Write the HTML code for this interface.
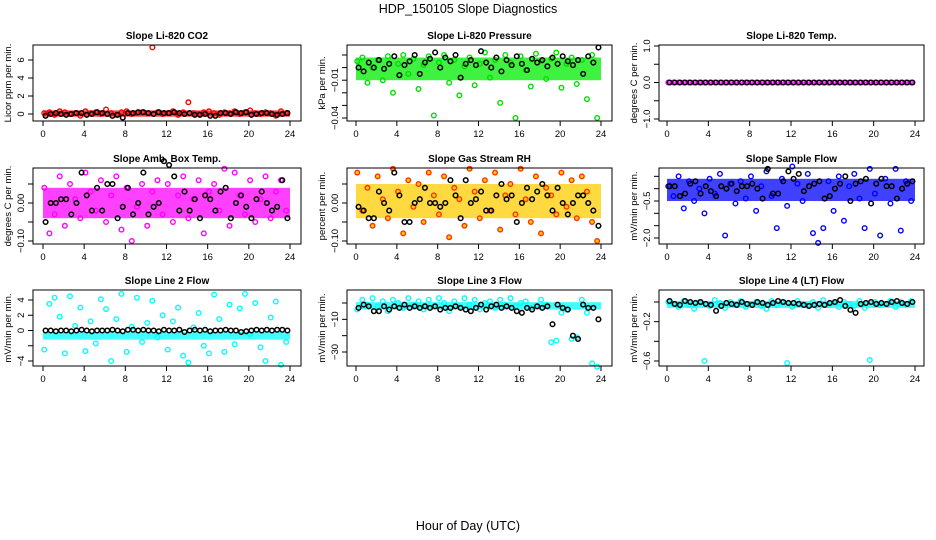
<!DOCTYPE html>
<html><head><meta charset="utf-8">
<style>
html,body{margin:0;padding:0;background:#fff;}
svg{display:block;font-family:"Liberation Sans",sans-serif;}
</style></head>
<body>
<svg id="chart" width="936" height="540" viewBox="0 0 936 540" xmlns="http://www.w3.org/2000/svg">
<text x="468" y="13" font-size="12.5" text-anchor="middle">HDP_150105  Slope Diagnostics</text>
<text x="468" y="530" font-size="12.5" text-anchor="middle">Hour of Day (UTC)</text>
</svg>
<script>
// ---- data ----
const hourTicks = [0,4,8,12,16,20,24];
const panelTitles = ["Slope Li-820 CO2","Slope Li-820 Pressure","Slope Li-820 Temp.","Slope Amb. Box Temp.","Slope Gas Stream RH","Slope Sample Flow","Slope Line 2 Flow","Slope Line 3 Flow","Slope Line 4 (LT) Flow"];
const yTitles = ["Licor ppm per min.","kPa per min.","degrees C per min.","degrees C per min.","percent per min.","mV/min per min.","mV/min per min.","mV/min per min.","mV/min per min."];
const yTickValues = [[0,2,4,6],[0.01,0,-0.01,-0.02,-0.03,-0.04],[1,0.5,0,-0.5,-1],[0.05,0,-0.05,-0.1],[0.05,0,-0.05,-0.1],[0.5,0,-0.5,-1,-1.5,-2],[4,2,0,-2,-4],[0,-10,-20,-30],[0,-0.2,-0.4,-0.6]];
const yTickLabels = [["0","2","4","6"],["","","\u22120.01","","","\u22120.04"],["1.0","","0.0","","\u22121.0"],["","0.00","","\u22120.10"],["","0.00","","\u22120.10"],["","","\u22120.5","","","\u22122.0"],["4","2","0","","\u22124"],["","\u221210","","\u221230"],["","\u22120.2","","\u22120.6"]];
const coreLow = [-0.3,-0.01,-0.02,-0.04,-0.04,-0.5,-1.2,-4,-0.06];
const coreHigh = [0.4,0.008,0.02,0.04,0.05,0.4,-0.2,0.5,0.01];
const colored1 = [0.1,0.2,-0.1,0.3,0.2,0,0.1,-0.2,0.3,0.1,0.2,0,0.5,0.1,-0.1,0.2,0.3,0,0.1,0.2,0.1,7.4,0.2,0,0.1,0.3,-0.1,0.2,1.3,0.1,0,0.2,0.3,0.1,-0.1,0.2,0.1,0.3,0,0.2,0.4,0.1,0,0.2,0.1,-0.2,0.3,0.1];
const black1 = [-0.2,0,0.1,0,-0.1,0,0.1,0.1,-0.1,0,0.2,0.1,0,-0.2,-0.1,-0.4,0.1,0.1,0.2,0.2,0.1,0,0.2,0.1,0.1,0.2,0.1,0,0.1,-0.1,-0.1,0,-0.2,-0.2,0.1,0.1,0,0.2,0.1,0.2,-0.1,0,0.1,0.1,0,-0.1,0,0.1];
const colored2 = [0.005,0.008,-0.012,0.0,0.006,-0.01,0.009,-0.02,0.003,0.01,-0.005,0.007,-0.017,0.002,0.009,-0.038,0.004,0.01,-0.012,0.006,-0.022,0.001,0.008,-0.014,0.003,0.012,-0.008,0.006,-0.028,0.01,0.004,-0.04,0.009,-0.002,-0.015,0.011,0.005,-0.009,0.007,0.012,-0.016,0.003,0.008,-0.013,0.006,-0.025,0.01,-0.04];
const black2 = [0.0,-0.003,0.004,0.0,0.006,-0.001,0.003,0.009,-0.006,0.002,0.005,0.01,-0.005,0.004,0.007,0.012,0.0,0.008,0.005,0.01,-0.008,0.003,0.006,0.002,0.013,0.004,0.0,0.008,-0.003,0.006,0.002,0.009,0.003,-0.002,0.007,0.004,0.006,0.001,0.008,0.003,0.009,0.005,0.002,0.006,-0.005,0.009,0.004,0.016];
const colored3 = [0,0,0,0,0,0,0,0,0,0,0,0,0,0,0,0,0,0,0,0,0,0,0,0,0,0,0,0,0,0,0,0,0,0,0,0,0,0,0,0,0,0,0,0,0,0,0,0];
const black3 = [0,0,0,0,0,0,0,0,0,0,0,0,0,0,0,0,0,0,0,0,0,0,0,0,0,0,0,0,0,0,0,0,0,0,0,0,0,0,0,0,0,0,0,0,0,0,0,0];
const colored4 = [0.04,-0.08,-0.03,0.07,-0.06,0.05,0.01,-0.04,0.08,0.03,-0.02,0.06,-0.05,0.02,0.07,-0.07,0.04,-0.1,-0.01,0.05,-0.06,0.03,0.06,-0.03,0.05,-0.05,0.02,0.07,-0.04,0.01,0.06,-0.08,0.03,0.05,-0.02,0.09,-0.06,0.08,0.02,-0.03,0.06,-0.05,0.01,0.07,-0.04,0.03,0.06,-0.02];
const black4 = [-0.05,0.0,0.0,0.01,0.01,-0.03,0.0,0.08,0.02,-0.02,0.04,-0.02,0.05,0.05,-0.04,-0.01,0.04,-0.03,0.0,0.08,-0.03,-0.01,0.0,0.11,0.1,0.07,-0.02,0.03,-0.02,0.01,-0.04,0.02,0.01,-0.02,0.03,0.04,-0.04,0.0,0.02,-0.01,-0.04,0.01,0.03,0.0,-0.02,-0.01,0.06,-0.04];
const colored5 = [0.08,-0.02,0.04,-0.06,0.07,0.01,-0.04,0.09,0.03,-0.08,0.06,-0.01,0.05,-0.05,0.08,0.02,-0.03,0.07,-0.09,0.04,0.01,-0.06,0.09,0.03,-0.04,0.06,-0.02,0.08,-0.07,0.02,0.05,-0.03,0.09,0.01,-0.05,0.07,-0.08,0.04,0.02,-0.03,0.08,-0.01,0.06,-0.04,0.07,0.03,-0.05,-0.1];
const black5 = [-0.01,-0.02,-0.04,-0.04,0.03,0.0,-0.02,0.08,0.02,-0.05,-0.05,0.0,0.01,0.04,0.0,0.0,-0.01,0.0,0.06,0.02,-0.04,0.06,0.0,0.01,0.03,-0.02,-0.02,0.02,0.05,0.01,0.02,-0.05,0.0,0.04,0.01,0.03,0.05,0.02,-0.02,0.04,0.0,-0.03,0.0,0.02,0.02,0.0,-0.02,-0.06];
const colored6 = [0.1,-0.3,0.5,-0.8,0.3,-0.5,0.0,-1.0,0.4,-0.2,0.6,-1.9,0.2,-0.6,0.3,-0.4,0.5,-0.9,0.1,0.7,-0.3,-1.6,0.4,-0.7,0.9,0.2,-0.5,0.6,-1.8,-2.2,-1.6,0.3,-0.9,0.5,-1.3,0.1,0.6,-0.4,-1.6,0.8,-0.2,-1.9,0.4,-0.6,0.8,-1.7,0.3,-0.5];
const black6 = [0.1,0.1,-0.3,-0.2,0.2,0.3,-0.2,0.1,-0.1,-0.3,0.1,0.0,0.2,-0.1,0.1,0.1,0.2,0.0,-0.4,0.8,-0.2,-0.2,0.3,0.7,0.4,0.6,-0.1,0.1,0.2,0.3,-0.4,-0.3,0.0,0.2,0.5,-0.5,0.2,0.3,0.4,-0.6,0.2,0.4,0.1,0.1,-0.4,0.0,0.2,0.3];
const colored7 = [-2.5,3.5,4.3,1.8,-3.0,4.5,0.6,3.0,-2.7,1.2,-1.7,4.1,2.8,-4.0,1.5,4.8,-2.8,0.5,4.3,-1.5,1.0,3.9,-0.9,2.0,-2.5,1.2,3.0,-3.3,-4.2,0.4,2.3,-2.0,-3.0,4.7,1.5,-2.8,3.4,-1.8,2.9,4.8,-0.5,3.6,-2.2,-4.0,1.7,3.8,-4.5,-1.5];
const black7 = [0,0,-0.1,0,0,-0.1,0,0.1,0,-0.1,0,0,0,0.1,0,-0.1,0.1,0.1,0,0.1,0,0,-0.1,0.1,0,0,0.1,-0.2,0,0.1,0,0.1,-0.1,0,0,0.1,0,0,-0.2,-0.1,0,0.1,0,0.1,0,0.1,0.1,0];
const colored8 = [-4,2,-1,3,-2,1,-5,2,0,-3,3,-1,1,-4,2,-2,3,0,-5,1,-2,3,-1,2,-4,0,1,-3,2,-1,3,-2,0,1,-3,-2,2,-1,-24,-23,-6,-4,-22,-21,2,-6,-37,-39];
const black8 = [-3,-1,-2,-5,-5,-2,-4,-2,-3,-1,-3,-2,-3,-2,-3,-2,-4,-3,-3,-2,-3,-4,-5,-3,-1,-4,-2,-1,-3,-2,-3,-5,-6,-3,-4,-2,-3,-2,-13,-1,-3,-4,-20,-22,-1,-3,-3,-10];
const colored9 = [0,-0.02,-0.05,0.01,-0.03,-0.07,0,-0.6,-0.04,0.02,-0.01,-0.06,0,-0.03,0.01,-0.05,-0.02,0,-0.04,-0.07,0.01,-0.03,0,-0.62,-0.05,0.01,-0.02,-0.04,0,-0.06,0.02,-0.03,-0.01,-0.05,0,-0.02,-0.04,0.01,-0.06,-0.59,0,-0.03,-0.02,0.01,-0.05,0,-0.02,0.01];
const black9 = [0.01,-0.02,-0.03,0.01,0,-0.01,0,-0.02,-0.03,-0.09,-0.04,-0.01,-0.02,-0.03,0,-0.02,-0.03,0,-0.01,-0.03,-0.01,0.01,0,-0.01,-0.01,-0.02,-0.03,-0.04,-0.03,-0.02,-0.03,-0.01,0,0.02,-0.04,-0.08,-0.11,-0.02,-0.01,0,-0.02,-0.01,-0.02,0,0.01,-0.01,-0.02,0];
const coloredSeries = [colored1,colored2,colored3,colored4,colored5,colored6,colored7,colored8,colored9];
const blackSeries = [black1,black2,black3,black4,black5,black6,black7,black8,black9];

// ---- layout / styles ----
const NS = "http://www.w3.org/2000/svg";
const svg = document.getElementById("chart");
const colLeft = [33,347,659], colRight = [301,612,924], colX0 = [43,356,667], colX24 = [290,601,915];
const rowTop = [45,168,290], plotH = 76;
const yCal = [[0,69,6,15],[0.01,10,-0.04,73],[1,1,-1,74],[0,35,-0.1,73],[0,35,-0.1,73],[-0.5,33,-2,70],[4,10,-4,71],[0,13,-30,62],[0,12,-0.6,71]];
const fills = ["#ff0000","#00ee00","#ff00ff","#ff00ff","#ffcc00","#0000ff","#00ffff","#00ffff","#00ffff"];
const strokes = ["#ff0000","#00dd00","#ff00ff","#ff00ff","#ff3300","#0000ff","#00ffff","#00ffff","#00ffff"];

function mk(tag, attrs, parent){const e=document.createElementNS(NS,tag);for(const k in attrs)e.setAttribute(k,attrs[k]);(parent||svg).appendChild(e);return e;}

for(let p=0;p<9;p++){
  const c=p%3, r=Math.floor(p/3);
  const top=rowTop[r], left=colLeft[c], right=colRight[c], bot=top+plotH;
  const xs=h=>colX0[c]+(colX24[c]-colX0[c])*h/24;
  const cal=yCal[p];
  const ys=v=>top+cal[1]+(v-cal[0])*(cal[3]-cal[1])/(cal[2]-cal[0]);
  const g=mk("g",{});
  
  
  const t=mk("text",{x:(left+right)/2,y:top-6,"font-size":"10","font-weight":"bold","text-anchor":"middle"},g);
  
  
  t.textContent=panelTitles[p];
  const yt=mk("text",{x:0,y:0,"font-size":"9.5","text-anchor":"middle",transform:`translate(${left-22},${top+plotH/2}) rotate(-90)`},g);
  
  
  yt.textContent=yTitles[p];
  const cg=mk("g",{},g);
  
  
  const band=mk("rect",{x:xs(0),y:ys(coreHigh[p]),width:xs(24)-xs(0),height:Math.max(3,ys(coreLow[p])-ys(coreHigh[p])),fill:fills[p],opacity:0.75},cg);
  
  
  const cs=coloredSeries[p];
  cs.forEach((v,i)=>{
    const h=(i+0.25)*24/cs.length;
    const pt=mk("circle",{cx:xs(h),cy:ys(v),r:2.3,fill:p===4?"#ffcc00":"none",stroke:strokes[p],"stroke-width":1.4},cg);
    
    
  });
  const bs=blackSeries[p];
  bs.forEach((v,i)=>{
    const h=(i+0.5)*24/bs.length;
    const pt=mk("circle",{cx:xs(h),cy:ys(v),r:2.3,fill:"none",stroke:"#000","stroke-width":1.5},cg);
    
    
  });
  const box=mk("rect",{x:left,y:top,width:right-left,height:plotH,fill:"none",stroke:"#000","stroke-width":1},g);
  
  
  hourTicks.forEach(h=>{
    const x=xs(h);
    const tk=mk("line",{x1:x,x2:x,y1:bot,y2:bot+5,stroke:"#000"},g);
    
    
    const tl=mk("text",{x:x,y:bot+16,"font-size":"9.5","text-anchor":"middle"},g);
    
    
    tl.textContent=String(h);
  });
  yTickValues[p].forEach((v,i)=>{
    const y=ys(v);
    const tk=mk("line",{x1:left-5,x2:left,y1:y,y2:y,stroke:"#000"},g);
    
    
    if(yTickLabels[p][i]){
      const tl=mk("text",{x:0,y:0,"font-size":"9.5","text-anchor":"middle",transform:`translate(${left-9},${y}) rotate(-90)`},g);
      
      
      tl.textContent=yTickLabels[p][i];
    }
  });
}
</script>
</body></html>
